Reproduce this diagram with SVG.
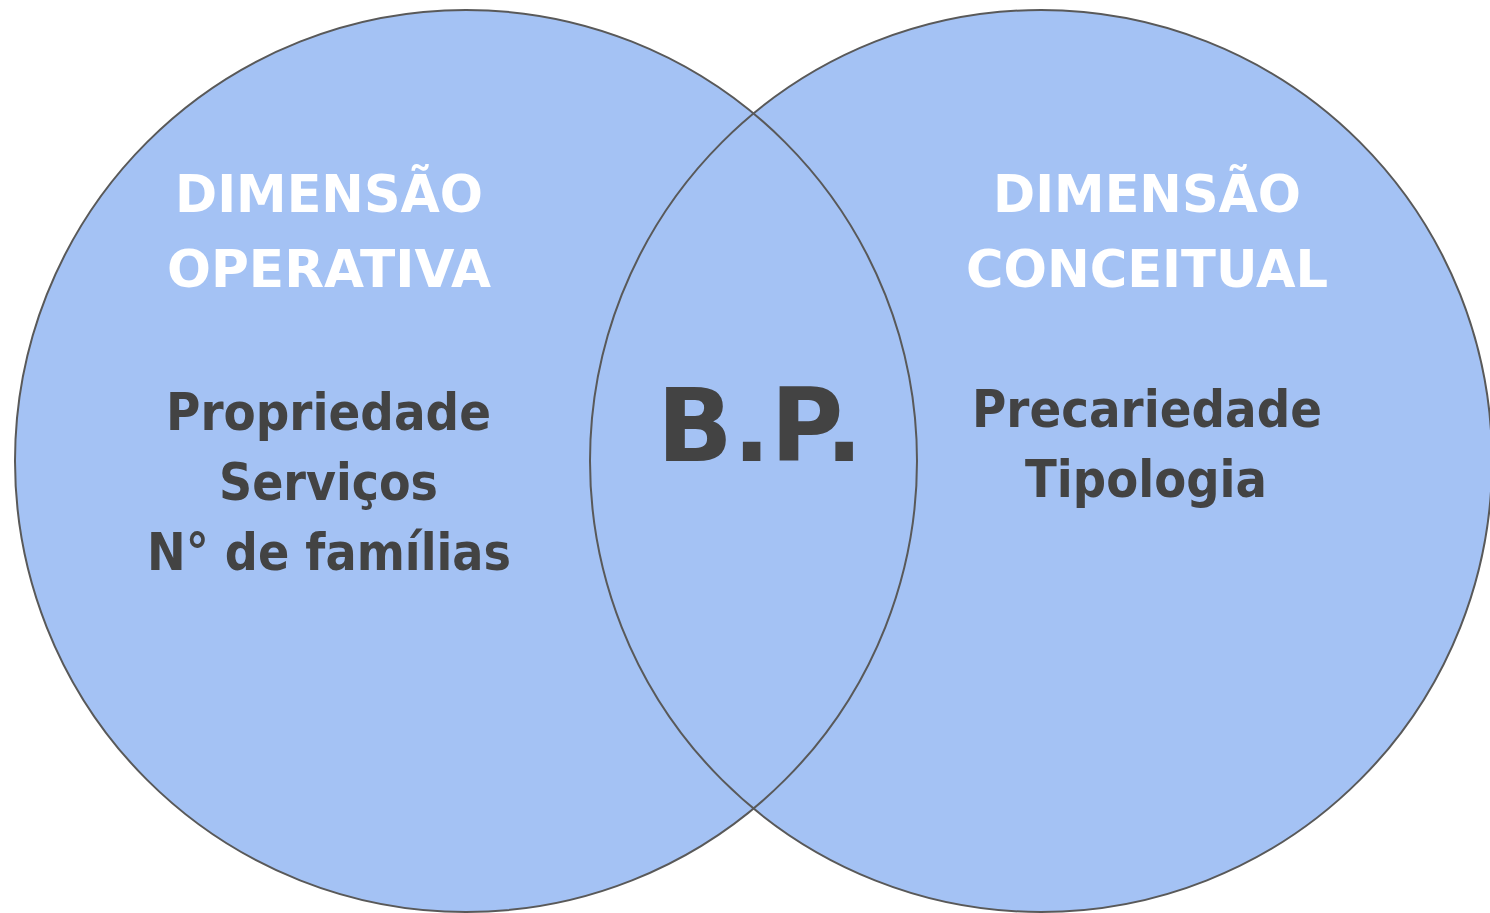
<svg xmlns="http://www.w3.org/2000/svg" width="1490" height="913" viewBox="0 0 1490 913">
<style>
.c{fill:#A4C2F4;stroke:none}
.s{fill:none;stroke:#595959;stroke-width:2}
text{font-family:"DejaVu Sans","Liberation Sans",sans-serif;font-weight:bold;text-anchor:middle}
.w{fill:#FFFFFF;font-size:51px}
.d{fill:#434343;font-size:51px}
.b{fill:#434343;font-size:102px}
</style>
<rect width="1490" height="913" fill="#FFFFFF"/>
<g id="fills">
<circle class="c" cx="466" cy="461" r="451"/>
<circle class="c" cx="1041" cy="461" r="451"/>
</g>
<g id="left">
<circle class="s" cx="466" cy="461" r="451"/>
<text class="w" x="329" y="212" textLength="308" lengthAdjust="spacingAndGlyphs">DIMENSÃO</text>
<text class="w" x="329" y="287" textLength="324" lengthAdjust="spacingAndGlyphs">OPERATIVA</text>
<text class="d" x="328.5" y="430" textLength="325" lengthAdjust="spacingAndGlyphs">Propriedade</text>
<text class="d" x="328.5" y="500" textLength="219" lengthAdjust="spacingAndGlyphs">Serviços</text>
<text class="d" x="329" y="570" textLength="364" lengthAdjust="spacingAndGlyphs">N° de famílias</text>
</g>
<g id="right">
<circle class="s" cx="1041" cy="461" r="451"/>
<text class="w" x="1147" y="212" textLength="308" lengthAdjust="spacingAndGlyphs">DIMENSÃO</text>
<text class="w" x="1147" y="287" textLength="362" lengthAdjust="spacingAndGlyphs">CONCEITUAL</text>
<text class="d" x="1147" y="427" textLength="350" lengthAdjust="spacingAndGlyphs">Precariedade</text>
<text class="d" x="1146" y="497" textLength="242" lengthAdjust="spacingAndGlyphs">Tipologia</text>
</g>
<g id="center">
<text class="b" x="760" y="461" textLength="206" lengthAdjust="spacingAndGlyphs">B.P.</text>
</g>
<g id="connectors"></g>
</svg>
